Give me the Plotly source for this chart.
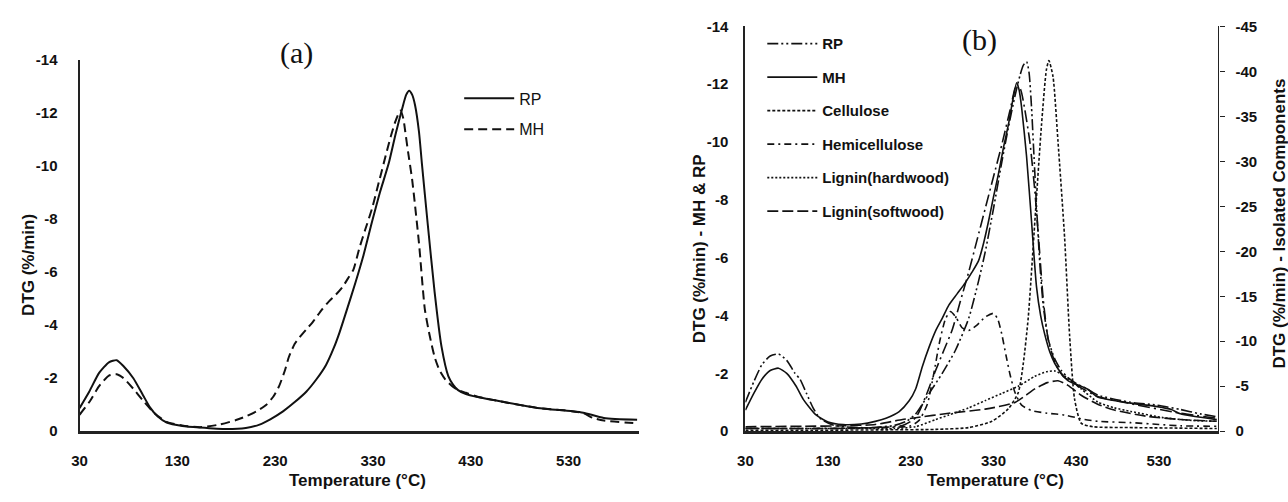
import plotly.graph_objects as go

W, H = 1288, 502

# ---------------- Panel (a) data ----------------
temp_a_rp = [30, 40, 50, 60, 68, 75, 85, 95, 102, 110, 119, 135, 153, 180, 200, 214, 225, 238, 250, 262,
             272, 282, 290, 296, 303, 312, 320, 329, 337, 346, 353, 360, 364, 367, 370, 373, 377, 380, 386,
             393, 400, 407, 412, 417, 425, 437, 464, 498, 532, 545, 566, 600]
dtg_a_rp = [-0.87, -1.5, -2.2, -2.6, -2.68, -2.45, -2.0, -1.35, -0.9, -0.55, -0.33, -0.2, -0.14, -0.08, -0.12,
            -0.25, -0.45, -0.75, -1.1, -1.5, -1.95, -2.5, -3.15, -3.75, -4.55, -5.6, -6.6, -7.9, -9.0, -10.1,
            -11.2, -12.2, -12.7, -12.85, -12.7, -12.3, -11.3, -10.1, -7.8, -5.25, -3.2, -2.08, -1.75, -1.55,
            -1.4, -1.29, -1.1, -0.88, -0.76, -0.7, -0.5, -0.43]

temp_a_mh = [30, 40, 50, 60, 68, 75, 85, 95, 106, 119, 135, 153, 173, 190, 200, 211, 221, 228, 234, 240,
             244, 250, 255, 262, 268, 278, 285, 292, 299, 305, 310, 316, 322, 329, 336, 343, 348, 353, 358,
             361, 363, 366, 370, 377, 383, 388, 393, 398, 404, 411, 417, 425, 437, 464, 498, 532, 545, 555,
             566, 600]
dtg_a_mh = [-0.62, -1.1, -1.7, -2.1, -2.15, -2.0, -1.6, -1.15, -0.7, -0.35, -0.22, -0.15, -0.25, -0.42, -0.56,
            -0.75, -1.0, -1.3, -1.7, -2.3, -2.8, -3.3, -3.55, -3.85, -4.1, -4.6, -4.9, -5.15, -5.45, -5.8,
            -6.1, -6.9, -7.6, -8.4, -9.4, -10.4, -11.1, -11.7, -12.1, -11.8, -11.3, -10.5, -9.5, -7.1, -4.6,
            -3.6, -2.8, -2.3, -1.95, -1.7, -1.55, -1.45, -1.3, -1.1, -0.88, -0.76, -0.68, -0.5, -0.4, -0.3]

# ---------------- Panel (b) data (left axis: MH & RP) ----------------
temp_b_rp = [30, 40, 50, 60, 70, 80, 90, 96, 104, 112, 120, 135, 150, 180, 210, 225, 236, 252, 268, 284,
             300, 312, 320, 330, 340, 348, 356, 362, 366, 370, 373, 376, 379, 382, 386, 390, 396, 404, 412,
             420, 430, 444, 456, 496, 528, 556, 580, 600]
dtg_b_rp = [-1.0, -1.7, -2.3, -2.6, -2.67, -2.45, -2.0, -1.8, -1.3, -0.8, -0.45, -0.22, -0.15, -0.12, -0.2,
            -0.35, -0.6, -1.3, -2.0, -2.8, -3.9, -5.2, -6.2, -7.7, -9.3, -10.5, -11.6, -12.3, -12.65, -12.78,
            -12.4, -11.2, -9.5, -7.8, -5.8, -4.4, -3.2, -2.5, -2.1, -1.85, -1.65, -1.45, -1.25, -1.0, -0.9,
            -0.75, -0.6, -0.5]

temp_b_mh = [30, 40, 50, 60, 70, 80, 91, 100, 115, 130, 148, 170, 187, 200, 216, 228, 236, 244, 252, 260,
             268, 276, 286, 296, 304, 312, 318, 324, 330, 336, 342, 348, 353, 358, 361, 364, 370, 376, 382,
             387, 392, 398, 404, 412, 420, 444, 456, 496, 528, 545, 556, 600]
dtg_b_mh = [-0.73, -1.3, -1.8, -2.1, -2.18, -2.0, -1.57, -1.1, -0.57, -0.32, -0.23, -0.25, -0.34, -0.45,
            -0.68, -1.05, -1.47, -2.24, -2.9, -3.47, -3.9, -4.36, -4.75, -5.14, -5.5, -5.9, -6.5, -7.26, -8.1,
            -8.9, -9.8, -10.6, -11.4, -12.05, -11.8, -11.2, -9.5, -7.26, -5.0, -4.0, -3.35, -2.75, -2.35,
            -2.0, -1.75, -1.45, -1.18, -0.97, -0.85, -0.75, -0.6, -0.4]

# unlabelled long-dash-dot curve visible in panel (b), peaking with MH
temp_b_extra = [30, 150, 220, 236, 248, 260, 270, 280, 290, 300, 310, 320, 330, 340, 350, 358, 363, 368,
                374, 380, 385, 390, 396, 404, 414, 424, 436, 456, 496, 556, 600]
dtg_b_extra = [-0.1, -0.1, -0.2, -0.47, -1.2, -2.1, -2.8, -3.5, -4.5, -5.5, -6.6, -7.7, -8.8, -9.9, -11.1,
               -12.0, -11.8, -11.1, -10.0, -8.3, -6.5, -4.6, -3.2, -2.4, -1.9, -1.7, -1.5, -1.2, -0.95, -0.62,
               -0.45]

# ---------------- Panel (b) data (right axis: isolated components) ----------------
temp_cell = [30, 100, 200, 260, 300, 328, 348, 360, 366, 372, 380, 388, 394, 397, 402, 408, 416, 422, 428,
             436, 450, 500, 600]
dtg_cell = [-0.1, -0.1, -0.15, -0.2, -0.4, -1.1, -2.5, -4.3, -7.5, -12.6, -23.3, -34.0, -40.2, -41.2, -39.4,
            -32.2, -21.5, -10.7, -3.6, -0.9, -0.5, -0.4, -0.3]

temp_hemi = [30, 100, 200, 230, 240, 250, 258, 265, 272, 278, 285, 292, 300, 310, 320, 330, 335, 340, 345,
             350, 356, 364, 376, 395, 416, 440, 456, 496, 530, 556, 600]
dtg_hemi = [-0.3, -0.3, -0.4, -0.6, -1.2, -3.0, -6.5, -10.0, -12.5, -13.3, -12.6, -11.5, -11.2, -11.8, -12.7,
            -13.1, -12.5, -10.8, -8.5, -6.3, -4.3, -2.9, -2.3, -2.0, -1.8, -1.3, -1.1, -0.95, -0.75, -0.6, -0.55]

temp_lig_hw = [30, 100, 180, 210, 236, 260, 276, 300, 320, 340, 360, 380, 394, 404, 415, 436, 456, 476, 496,
               536, 570, 600]
dtg_lig_hw = [-0.3, -0.3, -0.3, -0.3, -0.5, -1.3, -1.8, -2.6, -3.4, -4.2, -5.0, -6.1, -6.6, -6.7, -6.2,
              -4.7, -3.25, -2.6, -2.2, -1.5, -1.2, -1.1]

temp_lig_sw = [30, 100, 150, 187, 220, 236, 276, 320, 356, 380, 395, 408, 420, 436, 456, 476, 516, 556, 600]
dtg_lig_sw = [-0.5, -0.55, -0.6, -0.75, -1.3, -1.5, -2.0, -2.45, -3.2, -4.7, -5.4, -5.6, -5.1, -4.0, -3.0,
              -2.36, -1.65, -1.3, -1.1]

x_ticks = [30, 130, 230, 330, 430, 530]
y_ticks_left = [0, -2, -4, -6, -8, -10, -12, -14]
y_ticks_right = [0, -5, -10, -15, -20, -25, -30, -35, -40, -45]

FONT = "Liberation Sans, Arial, sans-serif"
BLACK = "#111111"

fig = go.Figure()

# Panel (a)
fig.add_trace(go.Scatter(x=temp_a_rp, y=dtg_a_rp, name="RP", mode="lines",
                         line=dict(color=BLACK, width=2, shape="spline", smoothing=0.6),
                         xaxis="x", yaxis="y", legend="legend", legendgroup="a1"))
fig.add_trace(go.Scatter(x=temp_a_mh, y=dtg_a_mh, name="MH", mode="lines",
                         line=dict(color=BLACK, width=2, dash="9px,5px", shape="spline", smoothing=0.6),
                         xaxis="x", yaxis="y", legend="legend", legendgroup="a2"))

# Panel (b)
lw = 1.6
fig.add_trace(go.Scatter(x=temp_b_extra, y=dtg_b_extra, name="", mode="lines", showlegend=False,
                         line=dict(color=BLACK, width=lw, dash="12px,4px,2px,4px", shape="spline",
                                   smoothing=0.6),
                         xaxis="x2", yaxis="y2", hoverinfo="skip"))
b_traces = [
    (temp_b_rp, dtg_b_rp, "RP", "y2", "11px,3px,2px,3px,2px,3px"),
    (temp_b_mh, dtg_b_mh, "MH", "y2", "solid"),
    (temp_cell, dtg_cell, "Cellulose", "y3", "3px,2px"),
    (temp_hemi, dtg_hemi, "Hemicellulose", "y3", "7px,4px,2px,4px"),
    (temp_lig_hw, dtg_lig_hw, "Lignin(hardwood)", "y3", "2px,2px"),
    (temp_lig_sw, dtg_lig_sw, "Lignin(softwood)", "y3", "11px,4px"),
]
for i, (tx, ty, nm, yax, dash) in enumerate(b_traces):
    fig.add_trace(go.Scatter(x=tx, y=ty, name=nm, mode="lines",
                             line=dict(color=BLACK, width=lw, dash=dash, shape="spline", smoothing=0.6),
                             xaxis="x2", yaxis=yax, legend="legend2", legendgroup=f"g{i}"))

tickfont = dict(family=FONT, size=15, color=BLACK, weight="bold")
xa = dict(range=[30, 602], tickvals=x_ticks, ticktext=[str(v) for v in x_ticks], showgrid=False,
          zeroline=False, showline=True, linecolor="#222", linewidth=2.5, ticks="", tickfont=tickfont,
          ticklabelstandoff=14, fixedrange=True)
ya = dict(range=[0, -14], tickvals=y_ticks_left, ticktext=[str(v) for v in y_ticks_left], showgrid=False,
          zeroline=False, showline=True, linecolor="#222", linewidth=2, ticks="", tickfont=tickfont,
          ticklabelstandoff=12, fixedrange=True)

fig.update_layout(
    width=W, height=H, autosize=False,
    margin=dict(l=0, r=0, t=0, b=0),
    paper_bgcolor="white", plot_bgcolor="white",
    font=dict(family=FONT, color=BLACK),
    xaxis=dict(xa, domain=[72 / W, 635 / W], anchor="y"),
    yaxis=dict(ya, domain=[1 - 437 / H, 1 - 53 / H], anchor="x", ticklabelstandoff=17),
    xaxis2=dict(xa, domain=[742 / W, 1218 / W], anchor="y2"),
    yaxis2=dict(ya, domain=[1 - 437 / H, 1 - 18 / H], anchor="x2"),
    yaxis3=dict(range=[0, -45], tickvals=y_ticks_right, ticktext=[str(v) for v in y_ticks_right],
                overlaying="y2", side="right", anchor="x2", showgrid=False, zeroline=False, showline=True,
                linecolor="#222", linewidth=1.2, ticks="outside", ticklen=5, tickcolor="#222",
                tickfont=tickfont, ticklabelstandoff=8, fixedrange=True),
    showlegend=True,
    legend=dict(x=454 / W, y=1 - 75 / H, xanchor="left", yanchor="top", bgcolor="rgba(0,0,0,0)",
                font=dict(family=FONT, size=16, color=BLACK), tracegroupgap=7, itemwidth=50),
    legend2=dict(x=759 / W, y=1 - 19 / H, xanchor="left", yanchor="top", bgcolor="rgba(0,0,0,0)",
                 font=dict(family=FONT, size=15, color=BLACK, weight="bold"), tracegroupgap=11,
                 itemwidth=50),
)

ann = []
def add_text(txt, xp, yp, size, angle=0, family=FONT, weight="bold"):
    ann.append(dict(text=txt, x=xp / W, y=1 - yp / H, xref="paper", yref="paper", showarrow=False,
                    xanchor="center", yanchor="middle", textangle=angle,
                    font=dict(family=family, size=size, color=BLACK, weight=weight)))

add_text("(a)", 290, 46, 30, family="Liberation Serif, Times New Roman, serif", weight="normal")
add_text("(b)", 978, 32, 30, family="Liberation Serif, Times New Roman, serif", weight="normal")
add_text("Temperature (°C)", 352, 488, 17)
add_text("Temperature (°C)", 994, 488, 17)
add_text("DTG (%/min)", 20, 265, 17, angle=-90)
add_text("DTG (%/min) - MH &amp; RP", 696, 248, 17, angle=-90)
add_text("DTG (%/min) - Isolated Components", 1279, 222, 17, angle=-90)
fig.update_layout(annotations=ann)

fig.write_html("out.html")
